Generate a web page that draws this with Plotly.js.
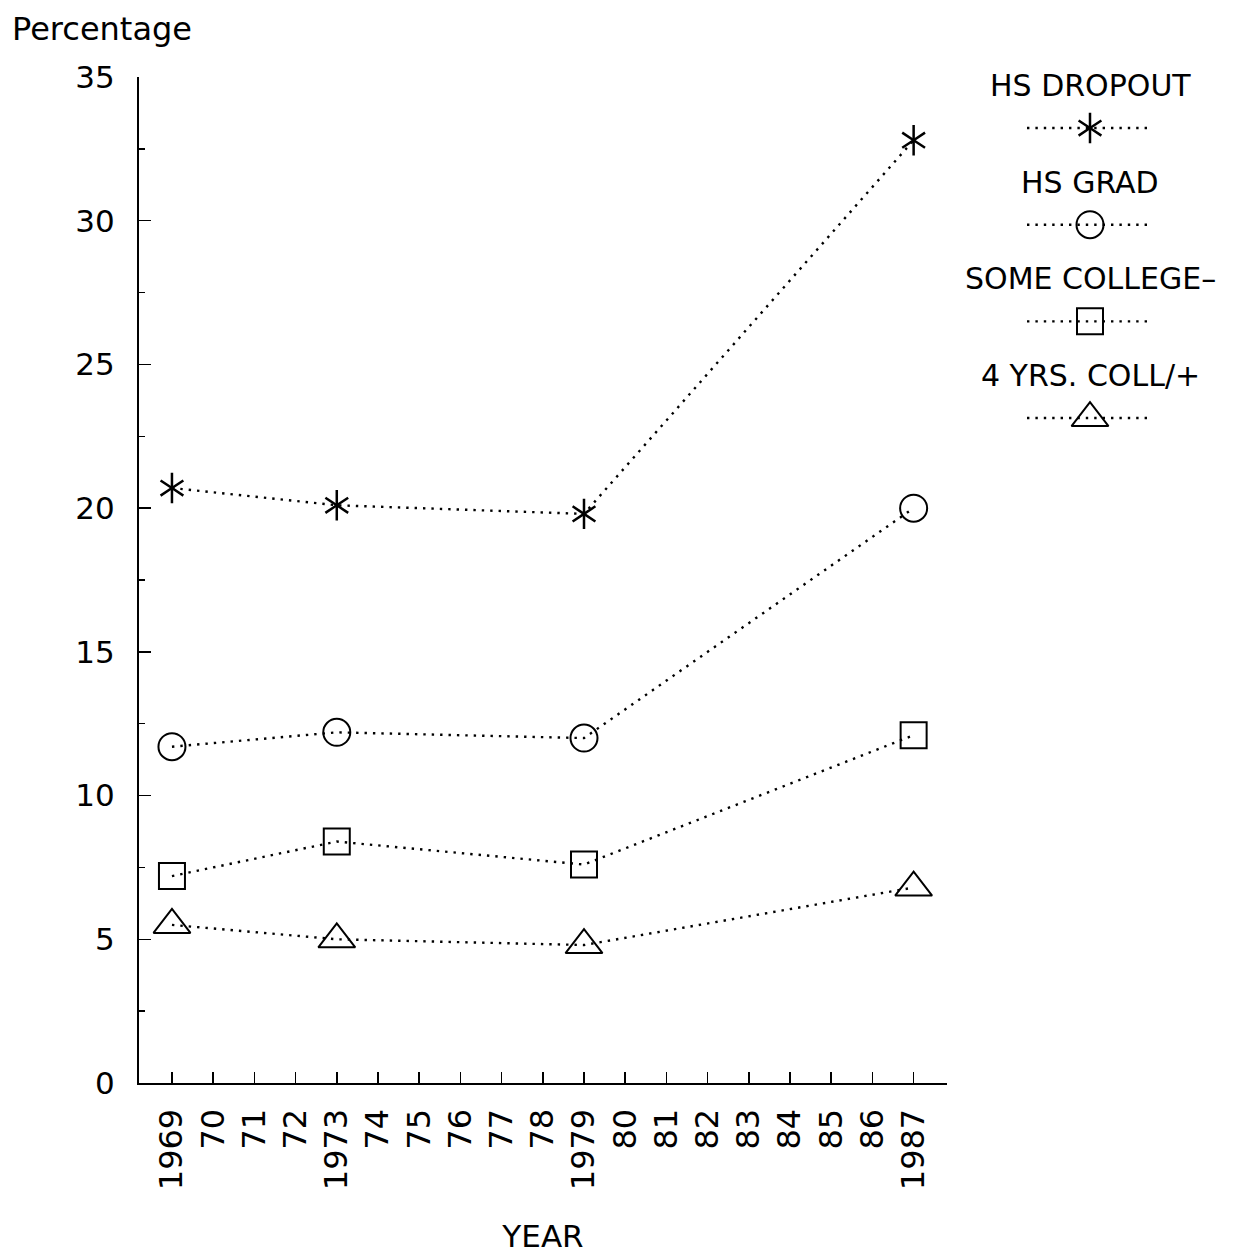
<!DOCTYPE html>
<html>
<head>
<meta charset="utf-8">
<script src="https://cdn.plot.ly/plotly-3.0.1.min.js"></script>
<style>
  html, body { margin: 0; padding: 0; background: #ffffff; }
  #chart { width: 1242px; height: 1254px; }
</style>
</head>
<body>
<div id="chart"></div>
<script>
// Survey years and the share (%) in each education group
const years = [1969, 1973, 1979, 1987];
const hsDropout = [20.7, 20.1, 19.8, 32.8];
const hsGrad = [11.7, 12.2, 12.0, 20.0];
const someCollege = [7.2, 8.4, 7.6, 12.1];
const fourYrsPlus = [5.5, 5.0, 4.8, 6.8];

// Axis ticks
const tickYears = [1969, 1970, 1971, 1972, 1973, 1974, 1975, 1976, 1977, 1978,
                   1979, 1980, 1981, 1982, 1983, 1984, 1985, 1986, 1987];
const tickLabels = ['1969', '70', '71', '72', '1973', '74', '75', '76', '77', '78',
                    '1979', '80', '81', '82', '83', '84', '85', '86', '1987'];

// Key entries, top to bottom
const seriesNames = ['HS DROPOUT', 'HS GRAD', 'SOME COLLEGE–', '4 YRS. COLL/+'];
const keyRows = [0, 1, 2, 3];

const FONT = 'DejaVu Sans, Liberation Sans, sans-serif';
const INK = '#000000';
const dotted = { color: INK, width: 2.4, dash: '2.4px,6px' };

const markerStyles = [
  { symbol: 'y-up', size: 19, color: INK, line: { color: INK, width: 2.5 } },
  { symbol: 'circle-open', size: 27, color: INK, line: { color: INK, width: 2 } },
  { symbol: 'square-open', size: 26, color: INK, line: { color: INK, width: 2 } },
  { symbol: 'triangle-up-open', size: 32, color: INK, line: { color: INK, width: 2 } }
];
// second half of the six-armed star
const starLower = { symbol: 'y-down', size: 19, color: INK, line: { color: INK, width: 2.5 } };

const seriesValues = [hsDropout, hsGrad, someCollege, fourYrsPlus];

const traces = [];
seriesValues.forEach((vals, i) => {
  traces.push({
    type: 'scatter', mode: 'lines+markers', name: seriesNames[i],
    x: years, y: vals, line: dotted, marker: markerStyles[i],
    xaxis: 'x', yaxis: 'y', hoverinfo: 'x+y'
  });
  if (i === 0) {
    traces.push({
      type: 'scatter', mode: 'markers', name: seriesNames[i],
      x: years, y: vals, marker: starLower, xaxis: 'x', yaxis: 'y', hoverinfo: 'skip'
    });
  }
});

// key samples: a dotted stroke with the series marker in the middle
keyRows.forEach((row, i) => {
  traces.push({
    type: 'scatter', mode: 'lines', x: [-1, 1], y: [row, row],
    line: dotted, xaxis: 'x2', yaxis: 'y2', hoverinfo: 'skip'
  });
  traces.push({
    type: 'scatter', mode: 'markers', x: [0], y: [row],
    marker: markerStyles[i], xaxis: 'x2', yaxis: 'y2', hoverinfo: 'skip'
  });
  if (i === 0) {
    traces.push({
      type: 'scatter', mode: 'markers', x: [0], y: [row],
      marker: starLower, xaxis: 'x2', yaxis: 'y2', hoverinfo: 'skip'
    });
  }
});

const keyLabels = seriesNames.map((name, i) => ({
  xref: 'x2', yref: 'y2', x: 0, y: keyRows[i] - 0.44,
  text: name, showarrow: false, xanchor: 'center', yanchor: 'middle',
  font: { family: FONT, size: 30, color: INK }
}));

const PW = 1242 - 139 - 12;   // width of the plotting paper

const layout = {
  width: 1242, height: 1254,
  margin: { l: 139, r: 12, t: 77, b: 171, pad: 0 },
  paper_bgcolor: '#ffffff', plot_bgcolor: '#ffffff',
  showlegend: false,
  font: { family: FONT, size: 31, color: INK },
  xaxis: {
    domain: [0, 808 / PW],
    range: [1968.2, 1987.81],
    tickmode: 'array', tickvals: tickYears, ticktext: tickLabels,
    tickangle: -90,
    ticks: 'inside', ticklen: 11, tickwidth: 1.5, tickcolor: INK,
    ticklabelstandoff: 11,
    tickfont: { family: FONT, size: 32, color: INK },
    showline: true, linewidth: 2, linecolor: INK,
    showgrid: false, zeroline: false, anchor: 'y',
    title: { text: 'YEAR', font: { family: FONT, size: 31, color: INK }, standoff: 40 }
  },
  yaxis: {
    domain: [0, 1],
    range: [0, 35],
    tick0: 0, dtick: 5,
    ticks: 'inside', ticklen: 12, tickwidth: 1.5, tickcolor: INK,
    ticklabelstandoff: 16,
    minor: { dtick: 2.5, ticks: 'inside', ticklen: 6, tickwidth: 1.5, tickcolor: INK, showgrid: false },
    tickfont: { family: FONT, size: 31, color: INK },
    showline: true, linewidth: 2, linecolor: INK,
    showgrid: false, zeroline: false, anchor: 'x'
  },
  xaxis2: {
    domain: [(1027 - 139) / PW, (1153 - 139) / PW],
    range: [-1, 1], visible: false, anchor: 'y2', fixedrange: true
  },
  yaxis2: {
    domain: [0, 1],
    range: [9.879, -0.528], visible: false, anchor: 'x2', fixedrange: true
  },
  annotations: [
    {
      xref: 'paper', yref: 'paper', x: -129 / PW, y: 1 + 48 / 1006,
      xanchor: 'left', yanchor: 'middle', showarrow: false,
      text: 'Percentage', font: { family: FONT, size: 32, color: INK }
    }
  ].concat(keyLabels)
};

Plotly.newPlot('chart', traces, layout, { displayModeBar: false, staticPlot: true });
</script>
</body>
</html>
